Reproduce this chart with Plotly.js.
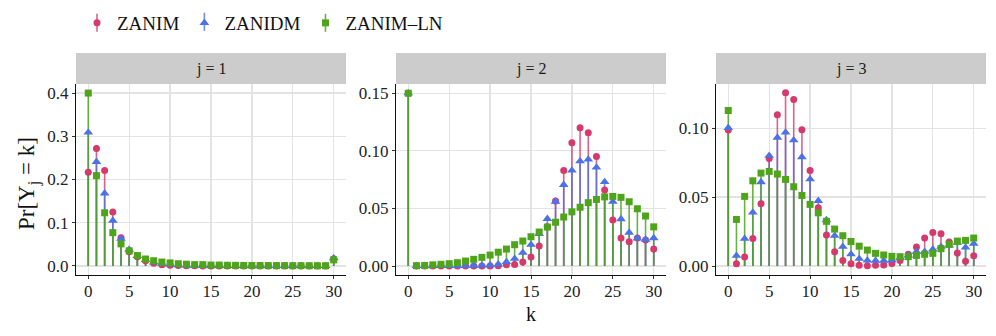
<!DOCTYPE html>
<html>
<head>
<meta charset="utf-8">
<script src="https://cdn.plot.ly/plotly-3.0.1.min.js"></script>
<style>html,body{margin:0;padding:0;background:#fff}#chart{width:996px;height:336px}</style>
</head>
<body>
<div id="chart"></div>
<script>
// categories
const k = [0,1,2,3,4,5,6,7,8,9,10,11,12,13,14,15,16,17,18,19,20,21,22,23,24,25,26,27,28,29,30];
const seriesNames = ["ZANIM", "ZANIDM", "ZANIM\u2013LN"];
const panelLabels = ["j = 1", "j = 2", "j = 3"];
const xTickVals = [0,5,10,15,20,25,30];
const yTickVals1 = [0,0.1,0.2,0.3,0.4];
const yTickVals2 = [0,0.05,0.10,0.15];
const yTickVals3 = [0,0.05,0.10];

// j = 1
const j1_zanim   = [0.217,0.272,0.221,0.125,0.065,0.033,0.021,0.012,0.006,0.003,0.0015,0.0008,0.0004,0.0002,0.0001,0.0001,0,0,0,0,0,0,0,0,0,0,0,0,0,0,0.016];
const j1_zanidm  = [0.309,0.241,0.168,0.105,0.063,0.038,0.023,0.014,0.008,0.005,0.003,0.002,0.0012,0.0008,0.0005,0.0004,0.0003,0.0002,0.0002,0.0001,0.0001,0.0001,0.0001,0.0001,0.0001,0.0001,0.0001,0.0001,0.0001,0.0001,0.018];
const j1_zanimln = [0.400,0.209,0.123,0.077,0.051,0.035,0.024,0.016,0.012,0.009,0.007,0.005,0.004,0.003,0.003,0.002,0.002,0.0015,0.0013,0.0011,0.001,0.0009,0.0008,0.0007,0.0007,0.0006,0.0006,0.0005,0.0005,0.0005,0.014];
// j = 2
const j2_zanim   = [0.150,0,0,0,0,0,0,0,0,0.0001,0.0001,0.0003,0.001,0.0014,0.0035,0.0078,0.0173,0.034,0.0564,0.083,0.107,0.120,0.1156,0.095,0.066,0.040,0.0243,0.021,0.0243,0.0225,0.0147];
const j2_zanidm  = [0.150,0.0002,0.0002,0.0002,0.0002,0.0002,0.0002,0.0003,0.0004,0.0005,0.0008,0.0015,0.0035,0.0064,0.0116,0.0185,0.028,0.041,0.056,0.0705,0.083,0.091,0.0925,0.0856,0.073,0.0558,0.0408,0.029,0.024,0.023,0.0243];
const j2_zanimln = [0.150,0.0003,0.0005,0.001,0.0015,0.002,0.0029,0.0043,0.0058,0.0075,0.0095,0.012,0.0147,0.0185,0.0217,0.0254,0.0295,0.0338,0.038,0.0425,0.047,0.051,0.055,0.0578,0.060,0.0604,0.0596,0.0558,0.0497,0.0434,0.034];
// j = 3
const j3_zanim   = [0.0986,0.0017,0.0065,0.020,0.0452,0.078,0.1097,0.1256,0.1208,0.0988,0.0693,0.0423,0.0225,0.0104,0.0041,0.0017,0.0005,0.0002,0.0005,0.0007,0.0019,0.0041,0.0085,0.0138,0.0203,0.0244,0.0234,0.0174,0.0094,0.0034,0.0075];
const j3_zanidm  = [0.1002,0.0075,0.0198,0.0389,0.0609,0.080,0.0932,0.0969,0.0913,0.079,0.063,0.0473,0.0333,0.022,0.014,0.0086,0.0053,0.0041,0.0039,0.0039,0.0043,0.006,0.0078,0.0104,0.0104,0.0121,0.014,0.015,0.0169,0.0135,0.0162];
const j3_zanimln = [0.1128,0.0338,0.0505,0.0618,0.0674,0.0686,0.0667,0.0628,0.0575,0.0512,0.0447,0.0386,0.0324,0.0268,0.022,0.0178,0.0144,0.0116,0.0092,0.008,0.007,0.0068,0.0068,0.0077,0.0085,0.0092,0.0126,0.0157,0.0181,0.0186,0.0203];

const panels = [
  [j1_zanim, j1_zanidm, j1_zanimln],
  [j2_zanim, j2_zanidm, j2_zanimln],
  [j3_zanim, j3_zanidm, j3_zanimln]
];

const FONT = "Liberation Serif, Times New Roman, serif";
const colors = ["#D6396B", "#4B72E6", "#4EA51C"];
const lineColors = ["rgba(214,57,107,0.8)", "rgba(75,114,230,0.8)", "rgba(78,165,28,0.85)"];
const symbols = ["circle", "triangle-up", "square"];
const sizes = [7, 8.5, 7];

const traces = [];
const axisSuffix = ["", "2", "3"];
// sticks first (all series), then points
panels.forEach((series, p) => {
  series.forEach((vals, s) => {
    const xs = [], ys = [];
    k.forEach((kk, i) => { xs.push(kk, kk, null); ys.push(0, vals[i], null); });
    traces.push({
      x: xs, y: ys, mode: "lines", type: "scatter",
      line: {color: lineColors[s], width: 1.6},
      xaxis: "x" + axisSuffix[p], yaxis: "y" + axisSuffix[p],
      showlegend: false, hoverinfo: "skip", legendgroup: seriesNames[s]
    });
  });
});
panels.forEach((series, p) => {
  series.forEach((vals, s) => {
    traces.push({
      x: k, y: vals, mode: "markers", type: "scatter", name: seriesNames[s],
      marker: {color: colors[s], symbol: symbols[s], size: sizes[s], line: {width: 0}},
      xaxis: "x" + axisSuffix[p], yaxis: "y" + axisSuffix[p],
      showlegend: p === 0, legendgroup: seriesNames[s]
    });
  });
});
// empty traces that register the label-only x axes
["x4", "x5", "x6"].forEach((xa, p) => {
  traces.push({x: [], y: [], type: "scatter", mode: "markers", xaxis: xa,
               yaxis: "y" + axisSuffix[p], showlegend: false, hoverinfo: "skip"});
});

const W = 996, H = 336;
const xDomains = [[76/W, 346/W], [396/W, 666/W], [716/W, 986/W]];
const yDomain = [1 - 275/H, 1 - 84/H];
const XRANGE = [-1.5, 31.5];
const tickFont = () => ({family: FONT, size: 17, color: "#222"});

function xAxis(i, anchor) {
  return {
    domain: xDomains[i], anchor: anchor, range: XRANGE,
    tickvals: xTickVals, ticks: "outside", ticklen: 3, tickwidth: 1, tickcolor: "#333",
    showticklabels: false,
    showgrid: true, gridcolor: "#E3E3E3", gridwidth: 1.2, zeroline: false,
    showline: true, linecolor: "#111", linewidth: 1.2, fixedrange: true
  };
}
// label-only axes, overlaying the data axes, set at the reference label distance
function xLabelAxis(i, over) {
  return {
    domain: xDomains[i], overlaying: over, anchor: "free", position: 1 - 279/H,
    range: XRANGE, tickvals: xTickVals, ticks: "", showticklabels: true,
    showgrid: false, zeroline: false, showline: false, tickfont: tickFont(), fixedrange: true
  };
}
function yAxis(i, anchor, range, tv, fmt) {
  return {
    domain: yDomain, anchor: anchor, range: range,
    tickvals: tv, tickformat: fmt, ticks: "outside", ticklen: 3, tickwidth: 1, tickcolor: "#333",
    showgrid: true, gridcolor: "#E3E3E3", gridwidth: 1.2, zeroline: false,
    showline: true, linecolor: "#111", linewidth: 1.2, tickfont: tickFont(), fixedrange: true
  };
}

const shapes = xDomains.map(d => ({
  type: "rect", xref: "paper", yref: "paper", x0: d[0], x1: d[1],
  y0: 1 - 84/H, y1: 1 - 53/H, fillcolor: "#CCCCCC", line: {width: 0}, layer: "below"
}));
const annotations = xDomains.map((d, i) => ({
  xref: "paper", yref: "paper", x: (d[0] + d[1]) / 2, y: 1 - 68.5/H,
  text: panelLabels[i], showarrow: false, xanchor: "center", yanchor: "middle",
  font: {family: FONT, size: 16, color: "#1a1a1a"}
}));
annotations.push({
  xref: "paper", yref: "paper", x: 28/W, y: 1 - 184/H, textangle: -90,
  text: "Pr[Y<sub>j</sub> = k]", showarrow: false, xanchor: "center", yanchor: "middle",
  font: {family: FONT, size: 23, color: "#111"}
});
annotations.push({
  xref: "paper", yref: "paper", x: 531/W, y: 1 - 314/H,
  text: "k", showarrow: false, xanchor: "center", yanchor: "middle",
  font: {family: FONT, size: 20, color: "#111"}
});

const layout = {
  width: W, height: H,
  margin: {l: 0, r: 0, t: 0, b: 0},
  paper_bgcolor: "#fff", plot_bgcolor: "#fff",
  font: {family: FONT, color: "#111"},
  showlegend: true,
  legend: {orientation: "h", x: 77/W, y: 1 - 4/H, xanchor: "left", yanchor: "top",
           font: {family: FONT, size: 19, color: "#111"}, bgcolor: "rgba(0,0,0,0)",
           itemwidth: 30, tracegroupgap: 0},
  xaxis: xAxis(0, "y"), yaxis: yAxis(0, "x", [-0.021, 0.421], yTickVals1, ".1f"),
  xaxis2: xAxis(1, "y2"), yaxis2: yAxis(1, "x2", [-0.0078, 0.158], yTickVals2, ".2f"),
  xaxis3: xAxis(2, "y3"), yaxis3: yAxis(2, "x3", [-0.0065, 0.132], yTickVals3, ".2f"),
  xaxis4: xLabelAxis(0, "x"), xaxis5: xLabelAxis(1, "x2"), xaxis6: xLabelAxis(2, "x3"),
  shapes: shapes, annotations: annotations
};

Plotly.newPlot("chart", traces, layout, {displayModeBar: false, staticPlot: true}).then(gd => {
  // vertical range glyphs through the legend keys, positioned at the drawn legend markers
  const box = gd.getBoundingClientRect();
  const extra = [];
  gd.querySelectorAll(".legend .traces").forEach(item => {
    const name = item.querySelector(".legendtext").textContent;
    const s = seriesNames.indexOf(name);
    const pt = item.querySelector(".legendpoints path");
    if (s < 0 || !pt) return;
    const r = pt.getBoundingClientRect();
    const cx = (r.left + r.right) / 2 - box.left;
    const cy = (r.top + r.bottom) / 2 - box.top;
    extra.push({type: "line", xref: "paper", yref: "paper",
      x0: cx / W, x1: cx / W, y0: 1 - (cy - 9) / H, y1: 1 - (cy + 9) / H,
      line: {color: lineColors[s], width: 1.6}});
  });
  return Plotly.relayout(gd, {shapes: shapes.concat(extra)});
});
</script>
</body>
</html>
